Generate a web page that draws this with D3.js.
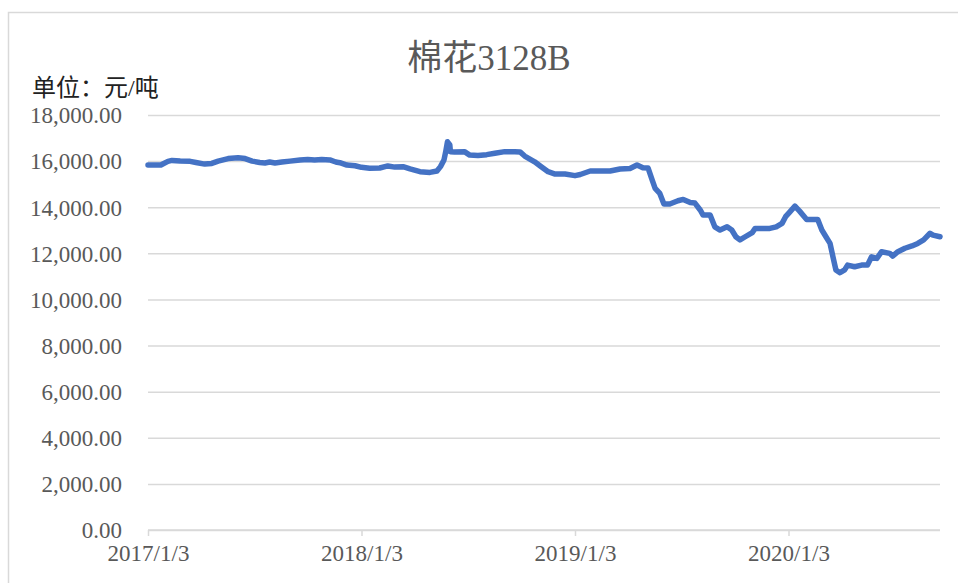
<!DOCTYPE html>
<html>
<head>
<meta charset="utf-8">
<script src="https://cdn.jsdelivr.net/npm/d3@7"></script>
<style>
  body { margin: 0; background: #fff; }
  svg { display: block; }
  .serif { font-family: "Liberation Serif", "DejaVu Serif", "Noto Sans CJK SC", serif; }
</style>
</head>
<body>
<svg id="chart" width="958" height="583"></svg>
<script>
/* 棉花3128B price series */
let dates = [
  "2017-01-03","2017-01-25","2017-02-06","2017-02-13","2017-02-27","2017-03-16","2017-03-26",
  "2017-04-10","2017-04-22","2017-05-03","2017-05-20","2017-06-06","2017-06-18","2017-06-30",
  "2017-07-13","2017-07-22","2017-07-30","2017-08-08","2017-08-20","2017-09-03","2017-09-20",
  "2017-10-03","2017-10-15","2017-10-27","2017-11-10","2017-11-20","2017-11-27","2017-12-09",
  "2017-12-23",
  "2018-01-03","2018-01-17","2018-02-03","2018-02-17","2018-03-01","2018-03-15","2018-03-27",
  "2018-04-13","2018-04-30","2018-05-12","2018-05-18","2018-05-24","2018-05-27","2018-05-30",
  "2018-06-03","2018-06-04","2018-06-11","2018-06-28","2018-07-07","2018-07-21","2018-08-05",
  "2018-08-19","2018-09-05","2018-09-22","2018-10-01","2018-10-09","2018-10-26","2018-11-04",
  "2018-11-18","2018-11-30","2018-12-17",
  "2019-01-03","2019-01-12","2019-01-29","2019-02-15","2019-03-04","2019-03-21","2019-04-07",
  "2019-04-19","2019-04-29","2019-05-08","2019-05-15","2019-05-20","2019-05-28","2019-06-04",
  "2019-06-14","2019-06-28","2019-07-07","2019-07-19","2019-07-27","2019-08-05","2019-08-10",
  "2019-08-22","2019-08-30","2019-09-08","2019-09-20","2019-09-28","2019-10-05","2019-10-12",
  "2019-10-21","2019-11-02","2019-11-07","2019-11-19","2019-12-02","2019-12-13","2019-12-23",
  "2019-12-29",
  "2020-01-05","2020-01-14","2020-01-22","2020-02-03","2020-02-22","2020-02-29","2020-03-07",
  "2020-03-14","2020-03-19","2020-03-24","2020-03-31","2020-04-08","2020-04-13","2020-04-25",
  "2020-05-07","2020-05-17","2020-05-24","2020-06-02","2020-06-10","2020-06-24","2020-06-29",
  "2020-07-08","2020-07-20","2020-08-01","2020-08-11","2020-08-21","2020-09-01","2020-09-06",
  "2020-09-18"
];
let prices = [
  15830,15830,15990,16030,16000,15990,15940,
  15870,15900,16000,16110,16150,16110,16000,
  15940,15920,15960,15920,15960,16000,16050,
  16070,16050,16070,16050,15960,15930,15830,
  15800,
  15730,15690,15700,15790,15740,15760,15660,
  15540,15510,15570,15760,16050,16410,16840,
  16700,16410,16400,16410,16260,16240,16280,
  16340,16410,16410,16400,16220,15970,15800,
  15540,15440,15440,
  15370,15420,15570,15570,15570,15660,15680,
  15830,15710,15700,15180,14820,14600,14140,
  14140,14280,14340,14200,14180,13880,13660,
  13660,13150,13010,13150,13010,12720,12580,
  12720,12900,13080,13080,13080,13150,13300,
  13590,
  13790,14050,13830,13470,13470,13010,12720,
  12430,11850,11280,11160,11280,11490,11420,
  11490,11490,11850,11780,12070,12000,11880,
  12070,12220,12320,12430,12580,12870,12790,
  12720
];
let xTickLabels = ["2017/1/3", "2018/1/3", "2019/1/3", "2020/1/3"];
let yTicks = [0, 2000, 4000, 6000, 8000, 10000, 12000, 14000, 16000, 18000];

let svg = d3.select("#chart");
let parse = d3.timeParse("%Y-%m-%d");
let data = dates.map((d, i) => ({ date: parse(d), value: prices[i] }));

let plotLeft = 148, plotRight = 940, plotTop = 115, plotBottom = 530;

let x = d3.scaleTime()
    .domain([parse("2017-01-03"), parse("2020-09-18")])
    .range([plotLeft, plotRight]);
let y = d3.scaleLinear()
    .domain([0, 18000])
    .range([plotBottom, plotTop]);

// outer frame
svg.append("rect")
    .attr("x", 8.5).attr("y", 12.5)
    .attr("width", 1000).attr("height", 700)
    .attr("fill", "none")
    .attr("stroke", "#d9d9d9")
    .attr("stroke-width", 1.5);

// title
svg.append("text")
    .attr("class", "serif")
    .attr("x", 489).attr("y", 70)
    .attr("text-anchor", "middle")
    .attr("font-size", 35)
    .attr("fill", "#595959")
    .text("棉花3128B");

// unit
svg.append("text")
    .attr("class", "serif")
    .attr("x", 32).attr("y", 96)
    .attr("font-size", 24)
    .attr("fill", "#222")
    .text("单位：元/吨");

// gridlines + y labels
let yAxis = d3.axisLeft(y)
    .tickValues(yTicks)
    .tickSize(-(plotRight - plotLeft))
    .tickPadding(26)
    .tickFormat(d3.format(",.2f"));
let gy = svg.append("g")
    .attr("transform", `translate(${plotLeft},0)`)
    .call(yAxis);
gy.select(".domain").remove();
gy.selectAll("line")
    .attr("stroke", "#d9d9d9")
    .attr("stroke-width", 1.5);
gy.selectAll("text")
    .attr("class", "serif")
    .attr("font-size", 23)
    .attr("fill", "#595959")
    .attr("dy", "0.34em");

// x axis
let yearTicks = xTickLabels.map(s => d3.timeParse("%Y/%-m/%-d")(s));
let xAxis = d3.axisBottom(x)
    .tickValues(yearTicks)
    .tickSize(6)
    .tickPadding(9)
    .tickFormat(d3.timeFormat("%Y/%-m/%-d"));
let gx = svg.append("g")
    .attr("transform", `translate(0,${plotBottom})`)
    .call(xAxis);
gx.select(".domain")
    .attr("stroke", "#d9d9d9")
    .attr("stroke-width", 1.5)
    .attr("d", `M${plotLeft},0H${plotRight}`);
gx.selectAll("line")
    .attr("stroke", "#d9d9d9")
    .attr("stroke-width", 1.5);
gx.selectAll("text")
    .attr("class", "serif")
    .attr("font-size", 23)
    .attr("fill", "#595959");

// price line
let line = d3.line()
    .x(d => x(d.date))
    .y(d => y(d.value));
svg.append("path")
    .datum(data)
    .attr("d", line)
    .attr("fill", "none")
    .attr("stroke", "#4472c4")
    .attr("stroke-width", 5.5)
    .attr("stroke-linejoin", "round")
    .attr("stroke-linecap", "round");
</script>
</body>
</html>
